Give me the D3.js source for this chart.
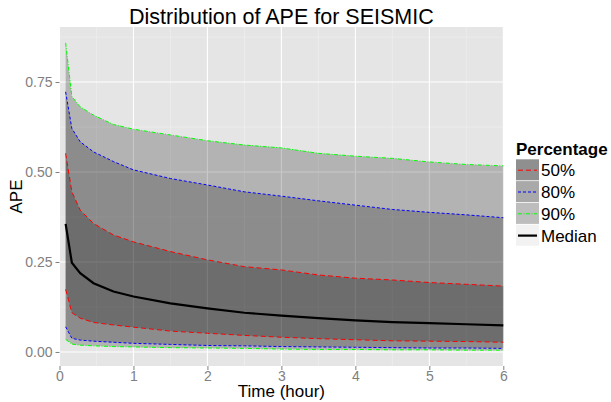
<!DOCTYPE html>
<html>
<head>
<meta charset="utf-8">
<script src="https://cdn.jsdelivr.net/npm/d3@7"></script>
<style>
  body { margin: 0; background: #fff; }
  svg { display: block; font-family: "Liberation Sans", Arial, sans-serif; }
  .gridmajor { stroke: #fff; stroke-width: 1.1; }
  .gridminor { stroke: #f2f2f2; stroke-width: 0.5; }
  .tick-label { fill: #7f7f7f; font-size: 14px; }
</style>
</head>
<body>
<svg id="chart" width="611" height="402"></svg>
<script>
// hours since start
const hours = [0.083, 0.167, 0.28, 0.46, 0.73, 1, 1.5, 2, 2.5, 3, 3.5, 4, 4.5, 5, 5.5, 6];

const hi95 = [0.859, 0.710, 0.681, 0.658, 0.632, 0.619, 0.603, 0.587, 0.575, 0.567, 0.552, 0.544, 0.538, 0.528, 0.521, 0.517];
const hi90 = [0.723, 0.621, 0.584, 0.556, 0.529, 0.506, 0.482, 0.464, 0.445, 0.433, 0.420, 0.408, 0.396, 0.388, 0.381, 0.373];
const hi75 = [0.552, 0.445, 0.394, 0.357, 0.325, 0.306, 0.279, 0.256, 0.237, 0.228, 0.214, 0.205, 0.200, 0.193, 0.188, 0.183];
const median = [0.356, 0.248, 0.219, 0.191, 0.168, 0.154, 0.135, 0.121, 0.109, 0.101, 0.094, 0.088, 0.083, 0.080, 0.077, 0.074];
const lo25 = [0.174, 0.109, 0.094, 0.082, 0.075, 0.069, 0.058, 0.052, 0.046, 0.041, 0.037, 0.034, 0.031, 0.030, 0.029, 0.027];
const lo10 = [0.070, 0.038, 0.033, 0.030, 0.027, 0.024, 0.021, 0.018, 0.017, 0.015, 0.014, 0.013, 0.012, 0.011, 0.011, 0.010];
const lo5 = [0.035, 0.022, 0.019, 0.017, 0.015, 0.014, 0.012, 0.011, 0.010, 0.008, 0.007, 0.007, 0.006, 0.006, 0.005, 0.005];

const xTicks = [0, 1, 2, 3, 4, 5, 6];
const yTicks = [0, 0.25, 0.5, 0.75];
const bandNames = ['50%', '80%', '90%'];

function init() {
  const svg = d3.select('#chart');

  const left = 59.5, right = 503.3, top = 27, bottom = 366;

  const x = d3.scaleLinear().domain([0, 6]).range([left, right]);
  const y = d3.scaleLinear().domain([-0.039, 0.903]).range([bottom, top]);

  // panel
  svg.append('rect')
    .attr('x', left).attr('y', top)
    .attr('width', right - left).attr('height', bottom - top)
    .attr('fill', '#e5e5e5');

  const grid = svg.append('g');
  const minorX = d3.range(0.5, 6, 1);
  const minorY = [0.125, 0.375, 0.625, 0.875];

  minorX.forEach(d => {
    grid.append('line').attr('class', 'gridminor')
      .attr('x1', x(d)).attr('x2', x(d)).attr('y1', top).attr('y2', bottom);
  });
  minorY.forEach(d => {
    grid.append('line').attr('class', 'gridminor')
      .attr('x1', left).attr('x2', right).attr('y1', y(d)).attr('y2', y(d));
  });
  xTicks.forEach(d => {
    grid.append('line').attr('class', 'gridmajor')
      .attr('x1', x(d)).attr('x2', x(d)).attr('y1', top).attr('y2', bottom);
  });
  yTicks.forEach(d => {
    grid.append('line').attr('class', 'gridmajor')
      .attr('x1', left).attr('x2', right).attr('y1', y(d)).attr('y2', y(d));
  });

  const rows = hours.map((h, i) => ({
    h: h, hi95: hi95[i], hi90: hi90[i], hi75: hi75[i],
    med: median[i], lo25: lo25[i], lo10: lo10[i], lo5: lo5[i]
  }));

  // ribbons, outer first
  const bands = [['lo5', 'hi95'], ['lo10', 'hi90'], ['lo25', 'hi75']];
  bands.forEach(b => {
    const area = d3.area()
      .x(d => x(d.h))
      .y0(d => y(d[b[0]]))
      .y1(d => y(d[b[1]]));
    svg.append('path').datum(rows)
      .attr('d', area)
      .attr('fill', '#000')
      .attr('fill-opacity', 0.215);
  });

  // boundary lines
  const bounds = [
    { key: 'hi95', color: '#00ff00', dash: '4,1.5,1,1.5' },
    { key: 'lo5', color: '#00ff00', dash: '4,1.5,1,1.5' },
    { key: 'hi90', color: '#0000ff', dash: '3,2' },
    { key: 'lo10', color: '#0000ff', dash: '3,2' },
    { key: 'hi75', color: '#ff0000', dash: '5,3' },
    { key: 'lo25', color: '#ff0000', dash: '5,3' }
  ];
  bounds.forEach(b => {
    const line = d3.line().x(d => x(d.h)).y(d => y(d[b.key]));
    svg.append('path').datum(rows)
      .attr('d', line)
      .attr('fill', 'none')
      .attr('stroke', b.color)
      .attr('stroke-width', 1)
      .attr('stroke-dasharray', b.dash);
  });

  svg.append('path').datum(rows)
    .attr('d', d3.line().x(d => x(d.h)).y(d => y(d.med)))
    .attr('fill', 'none')
    .attr('stroke', '#000')
    .attr('stroke-width', 2.2);

  // axes
  const xAxis = svg.append('g')
    .attr('transform', 'translate(0,' + bottom + ')')
    .call(d3.axisBottom(x).tickValues(xTicks).tickFormat(d3.format('d')).tickSize(4).tickPadding(1));
  const yAxis = svg.append('g')
    .attr('transform', 'translate(' + left + ',0)')
    .call(d3.axisLeft(y).tickValues(yTicks).tickFormat(d3.format('.2f')).tickSize(4).tickPadding(3));

  [xAxis, yAxis].forEach(a => {
    a.select('.domain').remove();
    a.selectAll('.tick line').attr('stroke', '#7f7f7f');
    a.selectAll('.tick text').attr('class', 'tick-label')
      .attr('font-family', null).attr('font-size', null).attr('fill', null);
  });

  // titles
  svg.append('text')
    .attr('x', (left + right) / 2).attr('y', 24)
    .attr('text-anchor', 'middle')
    .attr('font-size', '21.5px')
    .text('Distribution of APE for SEISMIC');

  svg.append('text')
    .attr('x', (left + right) / 2).attr('y', 396.5)
    .attr('text-anchor', 'middle')
    .attr('font-size', '17px')
    .text('Time (hour)');

  svg.append('text')
    .attr('transform', 'translate(22,' + (top + bottom) / 2 + ') rotate(-90)')
    .attr('text-anchor', 'middle')
    .attr('font-size', '17px')
    .text('APE');

  // legend
  const legend = svg.append('g').attr('transform', 'translate(516,0)');
  legend.append('text')
    .attr('x', 0).attr('y', 155)
    .attr('font-size', '17px')
    .attr('font-weight', 'bold')
    .text('Percentage');

  const keyFill = ['#8f8f8f', '#a9a9a9', '#bdbdbd', '#f2f2f2'];
  const keyLines = [bounds[4], bounds[2], bounds[0], { color: '#000', dash: null }];
  const labels = bandNames.concat(['Median']);
  const keyH = 21.8;

  labels.forEach((lab, i) => {
    const ky = 159.3 + i * keyH;
    legend.append('rect')
      .attr('x', 0).attr('y', ky)
      .attr('width', 23).attr('height', keyH - 0.8)
      .attr('fill', keyFill[i]);
    legend.append('line')
      .attr('x1', 2).attr('x2', 21)
      .attr('y1', ky + keyH / 2).attr('y2', ky + keyH / 2)
      .attr('stroke', keyLines[i].color)
      .attr('stroke-width', i == 3 ? 2.2 : 1)
      .attr('stroke-dasharray', keyLines[i].dash);
    legend.append('text')
      .attr('x', 25).attr('y', ky + keyH / 2 + 6)
      .attr('font-size', '17px')
      .text(lab);
  });
}

init();
</script>
</body>
</html>
